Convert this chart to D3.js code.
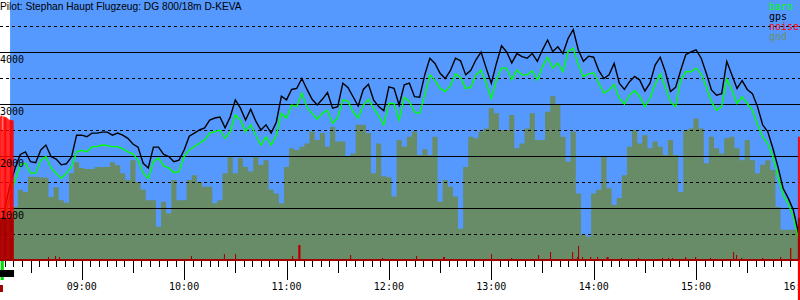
<!DOCTYPE html>
<html>
<head>
<meta charset="utf-8">
<script src="https://cdn.jsdelivr.net/npm/d3@7"></script>
<style>
  body { margin: 0; background: #fff; }
  svg text { font-family: "DejaVu Sans Mono", monospace; font-size: 10px; }
  svg text.title { font-family: "Liberation Sans", Arial, sans-serif; font-size: 10.2px; }
</style>
</head>
<body>
<svg id="chart" width="800" height="300"></svg>
<script>
// chart size
const width = 800
const height = 300

// header + legend
const title = "Pilot: Stephan Haupt Flugzeug: DG 800/18m D-KEVA"
const legendNames = ["baro", "gps", "noise", "gnd"]
const legendColors = ["#00ff00", "#000000", "#ff0000", "#6a8f6a"]

// altitude grid (m)
const altLabels = [1000, 2000, 3000, 4000]
const hourLabels = ["09:00", "10:00", "11:00", "12:00", "13:00", "14:00", "15:00", "16:00"]

// samples every 3 minutes from 08:12
const sampleStart = "08:12"
const sampleStep = 3

// ground elevation under the track (m)
const gnd = [null, null,
  1020, 1020, 1350, 1310, 1600, 1600, 1590, 1580, 1210, 1400, 1150, 1100, 1670, 1880, 1770, 1750, 1750, 1790, 1790, 1790, 1880, 1820, 1670, 1540, 1920,
  1500, 1350, 1150, 1150, 640, 1120, 900, 1540, 1150, 1150, 1540, 1630, 1500, 1410, 1410, 1090, 1150, 1670, 1990, 1670, 1960, 1790, 1700, 1990, 1830, 1920,
  1350, 1280, 1090, 1790, 2150, 2115, 2180, 2240, 2470, 2310, 2440, 2180, 2560, 2280, 2280, 1990, 2050, 2600, 2600, 2440, 1670, 2240, 1610, 1590, 1220, 2310,
  2180, 2370, 2470, 2020, 2130, 2020, 2370, 1120, 1540, 1410, 1220, 600, 1790, 2370, 2340, 2470, 2530, 2920, 2820, 2500, 2500, 2790, 2150, 2240, 2530, 2820,
  2310, 2310, 2850, 3150, 3000, 2370, 1890, 2470, 1280, 480, 450, 1280, 1350, 1990, 1380, 1060, 1190, 1630, 2180, 2500, 2240, 2400, 2150, 2280, 2180, 2020,
  2310, 2020, 1310, 2500, 2530, 2720, 2530, 1860, 2370, 2150, 2050, 2340, 2370, 2150, 1920, 2310, 1920, 1670, 1830, 1920, 1730, 1020, 580, 580, 580, 580,
  580]

// gps altitude (m)
const gps = [550, 1000,
  1450, 1770, 2030, 2080, 1890, 1870, 2115, 2210, 1990, 1940, 1830, 1850, 1980, 2400, 2400, 2370, 2440, 2440, 2460, 2460, 2400, 2440, 2400, 2340, 2230,
  2170, 1860, 1770, 2170, 2170, 2030, 1990, 1890, 1920, 2115, 2380, 2440, 2500, 2540, 2690, 2730, 2750, 2540, 2750, 3080, 2920, 2690, 2900, 2670, 2500, 2600,
  2440, 2650, 3150, 3080, 3280, 3300, 3490, 3280, 3090, 2980, 3090, 3220, 2920, 2950, 3400, 3320, 3140, 2960, 3280, 3380, 3080, 2950, 2870, 3330, 3300, 2980,
  3370, 3400, 3140, 3130, 3560, 3880, 3780, 3590, 3490, 3640, 3880, 3830, 3560, 3650, 3850, 4000, 3690, 3400, 3780, 4120, 4000, 3790, 3970, 3910, 3880, 3970,
  3820, 4040, 4230, 4010, 4100, 3970, 4260, 4430, 4040, 3820, 3920, 3900, 3640, 3490, 3560, 3780, 3400, 3280, 3430, 3530, 3460, 3250, 3400, 3750, 3900, 3620,
  3240, 3320, 3650, 3950, 4000, 4040, 3880, 3590, 3270, 3170, 3200, 3820, 3560, 3300, 3450, 3280, 3200, 2950, 2600, 2470, 2150, 1790, 1380, 1190, 960, 520,
  null]

// barometric altitude (m)
const baro = [385, 810,
  1250, 1540, 1830, 1860, 1670, 1670, 1920, 1990, 1770, 1670, 1570, 1670, 1790, 2080, 2110, 2080, 2180, 2180, 2210, 2200, 2180, 2180, 2140, 2080, 2040,
  1920, 1670, 1570, 1890, 1960, 1810, 1770, 1680, 1700, 1990, 2115, 2180, 2250, 2310, 2440, 2470, 2500, 2340, 2470, 2790, 2690, 2470, 2600, 2400, 2210, 2370,
  2210, 2400, 2820, 2730, 2980, 2950, 3210, 2940, 2820, 2710, 2820, 2880, 2630, 2730, 3080, 3050, 2850, 2730, 2980, 3090, 2920, 2770, 2600, 3010, 3010, 2690,
  3130, 3050, 2850, 2820, 3170, 3560, 3460, 3300, 3240, 3350, 3580, 3510, 3300, 3320, 3560, 3650, 3400, 3110, 3460, 3690, 3690, 3470, 3650, 3560, 3560, 3640,
  3460, 3720, 3900, 3690, 3790, 3620, 4010, 4070, 3750, 3530, 3580, 3600, 3400, 3210, 3270, 3380, 3110, 3000, 3170, 3260, 3140, 2950, 3110, 3380, 3580, 3320,
  3040, 2950, 3460, 3620, 3620, 3690, 3580, 3330, 3040, 2880, 2950, 3480, 3270, 3010, 3140, 3010, 2880, 2600, 2370, 2240, 1990, 1610, 1250, 1090, 830, 420,
  null]

// engine noise level (0..1000)
const noiseTimes = ["08:10:00", "08:10:30", "08:11:00", "08:11:30", "08:12:00", "08:12:30", "08:13:00", "08:13:30", "08:14:00", "08:14:30",
  "08:15:00", "08:15:30", "08:16:00", "08:16:30", "08:17:00", "08:17:30", "08:18:00", "08:18:30", "08:19:00", "08:19:30",
  "08:40:15", "08:44:20", "08:46:40", "10:04:00", "10:23:20", "10:29:50", "11:03:15", "11:07:00", "11:07:30", "11:37:15",
  "11:56:00", "12:15:55", "12:31:45", "12:32:15", "12:59:50", "13:11:35", "13:27:25", "13:34:25", "13:47:20", "13:50:15",
  "13:50:50", "13:53:10", "13:57:55", "14:02:00", "14:07:35", "14:08:05", "14:16:00", "14:26:00", "14:40:05", "14:43:35",
  "14:46:00", "14:53:35", "14:59:25", "15:08:10", "15:21:40", "15:23:25", "15:26:25", "15:38:45", "15:49:15", "15:55:10",
  "15:59:40", "16:00:10", "16:00:40"]
const noise = [920, 920, 920, 920, 920, 925, 925, 830, 920, 918,
  915, 915, 910, 905, 900, 900, 898, 896, 895, 895,
  19, 26, 19, 26, 38, 38, 26, 96, 96, 32,
  13, 26, 19, 19, 38, 13, 32, 51, 51, 19,
  90, 19, 19, 19, 19, 19, 13, 13, 13, 13,
  13, 19, 19, 13, 51, 32, 13, 13, 19, 77,
  790, 790, 790]

// landing marker (runs through the time axis)
const landingStart = "15:59:40"
const landingEnd = "16:01:10"

// status bars under the time axis at launch
const bandStart = ["08:12:30", "08:11:00", "08:11:00"]
const bandEnd = ["08:14:20", "08:20:20", "08:13:50"]
const bandColor = ["#00dd00", "#000000", "#a00000"]

const parseHM = d3.timeParse("%H:%M")
const parseHMS = d3.timeParse("%H:%M:%S")

const t0 = parseHM(sampleStart)
const times = gnd.map((_, i) => d3.timeMinute.offset(t0, i * sampleStep))

// scales
const x = d3.scaleTime()
  .domain([parseHMS("08:12:06"), parseHMS("16:00:54")])
  .range([0, width])
const y = d3.scaleLinear().domain([0, 5000]).range([260, 0])
const yNoise = d3.scaleLinear().domain([0, 1000]).range([260, 104])
const noiseSplit = 270   // below this the bar is dark red

const svg = d3.select("#chart")

// sky
const firstGnd = times[gnd.findIndex(d => d != null)]
svg.append("rect")
  .attr("x", x(firstGnd))
  .attr("y", y(5000))
  .attr("width", width - x(firstGnd))
  .attr("height", y(0) - y(5000))
  .attr("fill", "#5599ff")

// ground
svg.append("path")
  .datum(gnd.map((v, i) => [times[i], v]))
  .attr("fill", "#678c67")
  .attr("d", d3.area()
    .defined(d => d[1] != null)
    .curve(d3.curveStep)
    .x(d => x(d[0]))
    .y0(y(0))
    .y1(d => y(d[1])))

// grid lines
d3.range(500, 5000, 500).forEach(v => {
  svg.append("line")
    .attr("x1", 0).attr("x2", width)
    .attr("y1", Math.round(y(v)) + 0.5).attr("y2", Math.round(y(v)) + 0.5)
    .attr("stroke", "#000")
    .attr("stroke-width", 1)
    .attr("stroke-dasharray", v % 1000 ? "3,3" : null)
})

// baro + gps lines
const altLine = d3.line()
  .defined(d => d[1] != null)
  .x(d => x(d[0]))
  .y(d => y(d[1]))

svg.append("path")
  .datum(baro.map((v, i) => [times[i], v]))
  .attr("fill", "none")
  .attr("stroke", "#00ff00")
  .attr("stroke-width", 1.4)
  .attr("d", altLine)

svg.append("path")
  .datum(gps.map((v, i) => [times[i], v]))
  .attr("fill", "none")
  .attr("stroke", "#000")
  .attr("stroke-width", 1.4)
  .attr("d", altLine)

// noise bars, two tone
const noiseData = noise.map((v, i) => ({t: parseHMS(noiseTimes[i]), v: v}))
const barW = d => Math.max(1, x(d3.timeSecond.offset(d.t, 30)) - x(d.t))

svg.append("g").selectAll("rect")
  .data(noiseData)
  .enter()
  .append("rect")
  .attr("x", d => x(d.t))
  .attr("width", barW)
  .attr("y", d => yNoise(d.v))
  .attr("height", d => yNoise(0) - yNoise(d.v))
  .attr("fill", "#ff0000")

svg.append("g").selectAll("rect")
  .data(noiseData)
  .enter()
  .append("rect")
  .attr("x", d => x(d.t))
  .attr("width", barW)
  .attr("y", d => yNoise(Math.min(d.v, noiseSplit)))
  .attr("height", d => yNoise(0) - yNoise(Math.min(d.v, noiseSplit)))
  .attr("fill", "#a00000")

// time axis
const axisG = svg.append("g").attr("transform", "translate(0," + (y(0) + 1) + ")")
const tickTimes = d3.timeMinute.every(5).range(x.domain()[0], x.domain()[1])
axisG.selectAll("line")
  .data(tickTimes)
  .enter()
  .append("line")
  .attr("x1", d => Math.round(x(d)) + 0.5)
  .attr("x2", d => Math.round(x(d)) + 0.5)
  .attr("y1", 0)
  .attr("y2", d => d.getMinutes() === 0 ? 19 : d.getMinutes() === 30 ? 12 : 6)
  .attr("stroke", "#000")

svg.append("line")
  .attr("x1", 0).attr("x2", width)
  .attr("y1", y(0)).attr("y2", y(0))
  .attr("stroke", "#a00000")
  .attr("stroke-width", 2)

svg.append("g").selectAll("text")
  .data(hourLabels)
  .enter()
  .append("text")
  .attr("x", d => x(parseHM(d)))
  .attr("y", 290)
  .attr("text-anchor", "middle")
  .text(d => d)

// landing marker over the axis
svg.append("rect")
  .attr("x", x(parseHMS(landingStart)))
  .attr("width", x(parseHMS(landingEnd)) - x(parseHMS(landingStart)))
  .attr("y", y(0))
  .attr("height", height - y(0))
  .attr("fill", "#ff0000")

// launch status bars
svg.append("g").selectAll("rect")
  .data(bandColor)
  .enter()
  .append("rect")
  .attr("x", (d, i) => x(parseHMS(bandStart[i])))
  .attr("width", (d, i) => x(parseHMS(bandEnd[i])) - x(parseHMS(bandStart[i])))
  .attr("y", (d, i) => [261, 270, 285][i])
  .attr("height", (d, i) => [19, 7, 7][i])
  .attr("fill", d => d)

// altitude labels
svg.append("g").selectAll("text")
  .data(altLabels)
  .enter()
  .append("text")
  .attr("x", 0)
  .attr("y", d => y(d) + 11)
  .text(d => d)

// title
svg.append("text")
  .attr("class", "title")
  .attr("x", 0)
  .attr("y", 10)
  .text(title)

// legend
svg.append("g").selectAll("text")
  .data(legendNames)
  .enter()
  .append("text")
  .attr("x", 769)
  .attr("y", (d, i) => 10 + i * 10)
  .attr("fill", (d, i) => legendColors[i])
  .text(d => d)
</script>
</body>
</html>
